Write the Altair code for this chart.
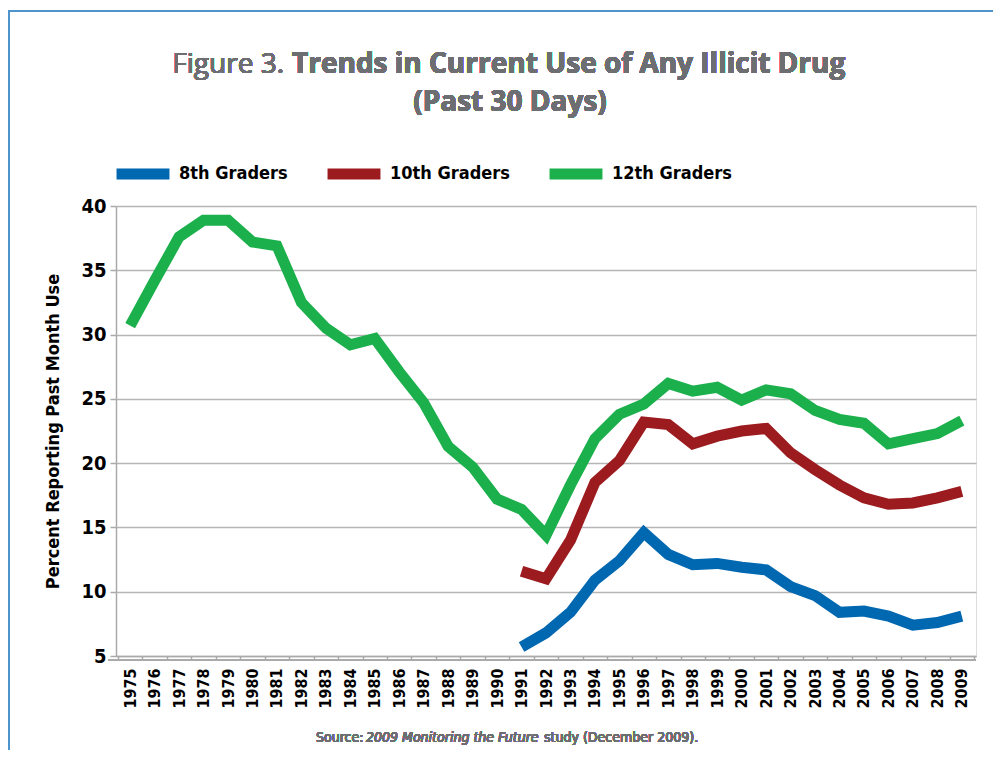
import altair as alt
import pandas as pd

years = list(range(1975, 2010))
grade12 = [30.7, 34.2, 37.6, 38.9, 38.9, 37.2, 36.9, 32.5, 30.5, 29.2, 29.7, 27.1, 24.7, 21.3, 19.7,
           17.2, 16.4, 14.4, 18.3, 21.9, 23.8, 24.6, 26.2, 25.6, 25.9, 24.9, 25.7, 25.4, 24.1, 23.4,
           23.1, 21.5, 21.9, 22.3, 23.3]
years_8_10 = list(range(1991, 2010))
grade10 = [11.6, 11.0, 14.0, 18.5, 20.2, 23.2, 23.0, 21.5, 22.1, 22.5, 22.7, 20.8, 19.5, 18.3,
           17.3, 16.8, 16.9, 17.3, 17.8]
grade8 = [5.7, 6.8, 8.4, 10.9, 12.4, 14.6, 12.9, 12.1, 12.2, 11.9, 11.7, 10.4, 9.7, 8.4, 8.5,
          8.1, 7.4, 7.6, 8.1]
series = ["8th Graders", "10th Graders", "12th Graders"]
colors = ["#0067b1", "#9b1b1f", "#1bb04b"]

rows = []
for y, v in zip(years_8_10, grade8):
    rows.append({"year": str(y), "value": v, "grade": series[0], "order": 0})
for y, v in zip(years_8_10, grade10):
    rows.append({"year": str(y), "value": v, "grade": series[1], "order": 1})
for y, v in zip(years, grade12):
    rows.append({"year": str(y), "value": v, "grade": series[2], "order": 2})
df = pd.DataFrame(rows)
year_df = pd.DataFrame({"year": [str(y) for y in years]})

COND = "'DejaVu Sans Condensed', sans-serif"
TFONT = "'Open Sans', sans-serif"
GRAY = "#6d6e71"
W, H = 860, 450

xscale = alt.Scale(type="band", domain=[str(y) for y in years], paddingInner=0, paddingOuter=0.08)

lines = alt.Chart(df).mark_line(strokeWidth=11, strokeCap="butt", strokeJoin="miter").encode(
    x=alt.X("year:O", scale=xscale, bandPosition=0.5,
            axis=alt.Axis(title=None, labelAngle=-90, labelAlign="right", labelBaseline="middle",
                          labelFont=COND, labelFontSize=16, labelFontWeight="bold", labelColor="black",
                          labelPadding=8, tickBand="extent", tickSize=4, tickColor="#aaaaaa",
                          tickWidth=1.5, domainColor="#aaaaaa", domainWidth=1.5, grid=False)),
    y=alt.Y("value:Q", scale=alt.Scale(domain=[5, 40], nice=False, zero=False),
            axis=alt.Axis(title="Percent Reporting Past Month Use", values=[5, 10, 15, 20, 25, 30, 35, 40],
                          titleFont=COND, titleFontSize=18, titleFontWeight="bold", titleColor="black",
                          titlePadding=18, labelFont=COND, labelFontSize=20, labelFontWeight="bold",
                          labelColor="black", labelPadding=4, tickSize=6, tickColor="#aaaaaa",
                          tickWidth=1.5, domainColor="#aaaaaa", domainWidth=1.5,
                          gridColor="#b5b5b5", gridWidth=1.5)),
    color=alt.Color("grade:N", scale=alt.Scale(domain=series, range=colors),
                    legend=alt.Legend(title=None, orient="none", direction="horizontal",
                                      legendX=-5, legendY=-64, symbolType="stroke",
                                      symbolSize=2800, symbolStrokeWidth=11,
                                      labelFont=COND, labelFontSize=18, labelFontWeight="bold",
                                      labelColor="black", labelOffset=4, columnPadding=17)),
    order=alt.Order("order:Q"),
)

baseline = alt.Chart(year_df).mark_rule(color="#aaaaaa", strokeWidth=1.5).encode(
    x=alt.value(-8), x2=alt.value(W), y=alt.value(H + 4)
)

frame = alt.Chart(year_df).mark_rect(fill=None, stroke="#4f93cc", strokeWidth=2).encode(
    x=alt.value(-107), x2=alt.value(W + 200), y=alt.value(-195), y2=alt.value(H + 300)
)

def txt(text, x, y, size, weight="normal", style="normal", align="left", font=TFONT, color=GRAY):
    return alt.Chart(year_df).mark_text(
        text=text, align=align, baseline="middle", font=font, fontSize=size,
        fontWeight=weight, fontStyle=style, color=color
    ).encode(x=alt.value(x), y=alt.value(y))

t1 = txt("Figure 3.", 168, -141, 28, align="right")
t2 = txt("Trends in Current Use of Any Illicit Drug", 176, -141, 28, weight="bold")
t3 = txt("(Past 30 Days)", 394, -103, 28, weight="bold", align="center")
s1 = txt("Source:", 200, 532, 14, font=COND)
s2 = txt("2009 Monitoring the Future", 250, 532, 14, style="italic", font=COND)
s3 = txt("study (December 2009).", 428, 532, 14, font=COND)

chart = alt.layer(frame, baseline, lines, t1, t2, t3, s1, s2, s3).properties(
    width=W, height=H,
    padding={"left": 108, "top": 198, "right": 17, "bottom": 94},
    autosize=alt.AutoSizeParams(type="none"),
).configure_view(stroke=None).configure(background="white")

chart.save("out.html", embed_options={"renderer": "svg", "actions": False})
